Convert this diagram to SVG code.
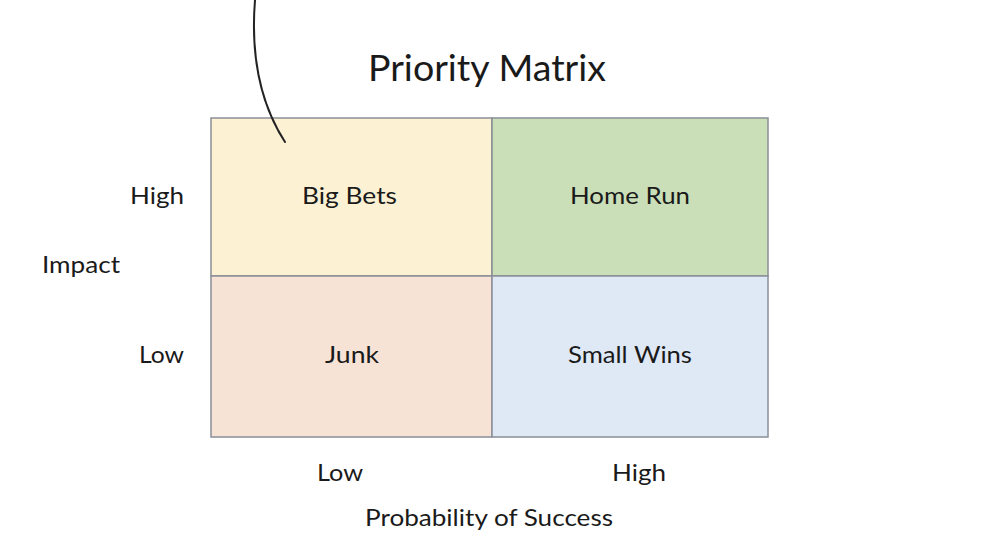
<svg xmlns="http://www.w3.org/2000/svg" width="984" height="544" viewBox="0 0 984 544">
<style>
.t{font-family:Lato,"Open Sans","Noto Sans",sans-serif;fill:#1a1a1a}
.lbl{font-size:23px}
.cell{stroke:#8a8f98;stroke-width:1.5}
</style>
<rect width="984" height="544" fill="#ffffff"/>
<text class="t" x="487" y="81" font-size="36" text-anchor="middle" textLength="238" lengthAdjust="spacingAndGlyphs">Priority Matrix</text>
<g id="big-bets"><rect class="cell" x="211" y="118" width="281" height="158" fill="#fcf1d3"/><text class="t lbl" x="349.5" y="204" text-anchor="middle" textLength="95" lengthAdjust="spacingAndGlyphs">Big Bets</text></g>
<g id="home-run"><rect class="cell" x="492" y="118" width="276" height="158" fill="#cadfb8"/><text class="t lbl" x="630" y="204" text-anchor="middle" textLength="120" lengthAdjust="spacingAndGlyphs">Home Run</text></g>
<g id="junk"><rect class="cell" x="211" y="276" width="281" height="161" fill="#f6e3d6"/><text class="t lbl" x="352" y="363" text-anchor="middle" textLength="54" lengthAdjust="spacingAndGlyphs">Junk</text></g>
<g id="small-wins"><rect class="cell" x="492" y="276" width="276" height="161" fill="#dfe8f5"/><text class="t lbl" x="630" y="363" text-anchor="middle" textLength="124" lengthAdjust="spacingAndGlyphs">Small Wins</text></g>
<g id="axes">
<text class="t lbl" x="130" y="204" textLength="54" lengthAdjust="spacingAndGlyphs">High</text>
<text class="t lbl" x="139" y="363" textLength="45" lengthAdjust="spacingAndGlyphs">Low</text>
<text class="t lbl" x="42" y="273" textLength="78" lengthAdjust="spacingAndGlyphs">Impact</text>
<text class="t lbl" x="317" y="481" textLength="46" lengthAdjust="spacingAndGlyphs">Low</text>
<text class="t lbl" x="612" y="481" textLength="54" lengthAdjust="spacingAndGlyphs">High</text>
<text class="t lbl" x="365" y="526" textLength="248" lengthAdjust="spacingAndGlyphs">Probability of Success</text>
</g>
<g id="connectors"><path d="M255,0 C251,50 258,100 285,142" fill="none" stroke="#222" stroke-width="2" stroke-linecap="round"/></g>
</svg>
